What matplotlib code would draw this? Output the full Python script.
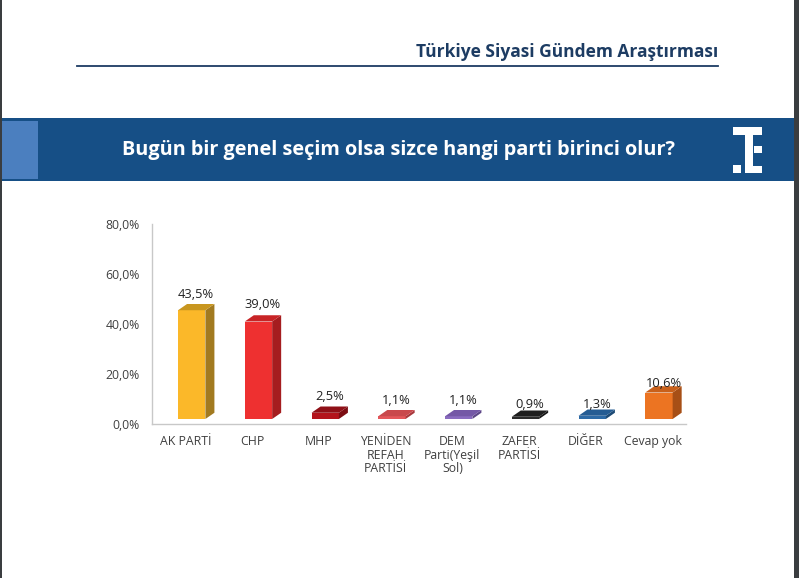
import matplotlib.pyplot as plt
from matplotlib.patches import Rectangle, Polygon

plt.rcParams['font.family'] = ['Open Sans', 'DejaVu Sans']

# data
parties = ['AK PARTİ', 'CHP', 'MHP', 'YENİDEN\nREFAH\nPARTİSİ', 'DEM\nParti(Yeşil\nSol)',
           'ZAFER\nPARTİSİ', 'DİĞER', 'Cevap yok']
values = [43.5, 39.0, 2.5, 1.1, 1.1, 0.9, 1.3, 10.6]
value_labels = ['43,5%', '39,0%', '2,5%', '1,1%', '1,1%', '0,9%', '1,3%', '10,6%']
y_ticks = [0, 20, 40, 60, 80]
y_tick_labels = ['0,0%', '20,0%', '40,0%', '60,0%', '80,0%']

# style
front = ['#fbb829', '#ee3030', '#b3141c', '#e4575b', '#8a6cc0', '#2b2b2b', '#2d6aa6', '#ec7422']
side = ['#a27a20', '#a51d1f', '#7c0d13', '#a8383c', '#5d4787', '#151515', '#1d4a75', '#a74f16']
top = ['#c8961f', '#c82426', '#8f1017', '#c9484c', '#7458a6', '#1e1e1e', '#255c93', '#c9601a']
label_nudge = [10, 11, 10, 10, 10, 6, 5, 3]  # px above bar top

W, H = 799, 578
fig = plt.figure(figsize=(W / 100, H / 100), dpi=100)
fig.patch.set_facecolor('white')


def fx(x):
    return x / W


def fy(y):
    return 1 - y / H


def box(x0, y0, x1, y1, color):
    fig.add_artist(Rectangle((fx(x0), fy(y1)), fx(x1 - x0), (y1 - y0) / H,
                             transform=fig.transFigure, facecolor=color,
                             edgecolor='none', zorder=0))


# page borders
box(0, 0, 1.5, H, '#3a3d40')
box(794, 0, W, H, '#3a3d40')

# header
fig.text(fx(718), fy(52), 'Türkiye Siyasi Gündem Araştırması', ha='right', va='center',
         fontsize=12.5, fontweight='bold', color='#1d3c63')
fig.add_artist(plt.Line2D([fx(77), fx(718)], [fy(66), fy(66)], transform=fig.transFigure,
                          color='#1d3c63', lw=1.3))

# blue band
box(1.5, 118, 794, 181, '#164f86')
box(1.5, 121, 38, 179, '#4b7fbf')
fig.text(fx(398), fy(150), 'Bugün bir genel seçim olsa sizce hangi parti birinci olur?',
         ha='center', va='center', fontsize=14.3, fontweight='bold', color='white')
# logo
for r in [(733, 127, 762, 135), (745, 127, 753, 173), (754, 146, 762, 153),
          (745, 166, 762, 173), (733, 165, 741, 173)]:
    box(*r, 'white')

# chart
ax = fig.add_axes([fx(152), fy(424), fx(686 - 152), 200 / H])
ax.set_xlim(0, len(parties))
ax.set_ylim(0, 80)

base = 2.0
w = 0.41
dx = 0.135
dy = 2.5
for i, v in enumerate(values):
    c = i + 0.5
    x0 = c - 0.11
    x1 = x0 + w
    ax.add_patch(Rectangle((x0, base), w, v, facecolor=front[i], edgecolor='none', zorder=3))
    ax.add_patch(Polygon([(x1, base), (x1 + dx, base + dy), (x1 + dx, base + v + dy), (x1, base + v)],
                         closed=True, facecolor=side[i], edgecolor='none', zorder=3))
    ax.add_patch(Polygon([(x0, base + v), (x1, base + v), (x1 + dx, base + v + dy), (x0 + dx, base + v + dy)],
                         closed=True, facecolor=top[i], edgecolor='none', zorder=3))
    ax.annotate(value_labels[i], (x0 + (w + dx) / 2, base + v + dy),
                xytext=(0, label_nudge[i] * 0.72), textcoords='offset points',
                ha='center', va='center', fontsize=9.3, color='#222222', zorder=4)

ax.set_yticks(y_ticks)
ax.set_yticklabels(y_tick_labels)
ax.set_xticks([i + 0.5 for i in range(len(parties))])
ax.set_xticklabels(parties, linespacing=1.05)
ax.tick_params(axis='both', length=0, labelsize=8.8, labelcolor='#404040')
ax.tick_params(axis='x', pad=8)
ax.tick_params(axis='y', pad=9)
for s in ['top', 'right']:
    ax.spines[s].set_visible(False)
for s in ['left', 'bottom']:
    ax.spines[s].set_color('#c8c8c8')
    ax.spines[s].set_linewidth(1)
ax.patch.set_alpha(0)

fig.savefig('out.png', dpi=100)
